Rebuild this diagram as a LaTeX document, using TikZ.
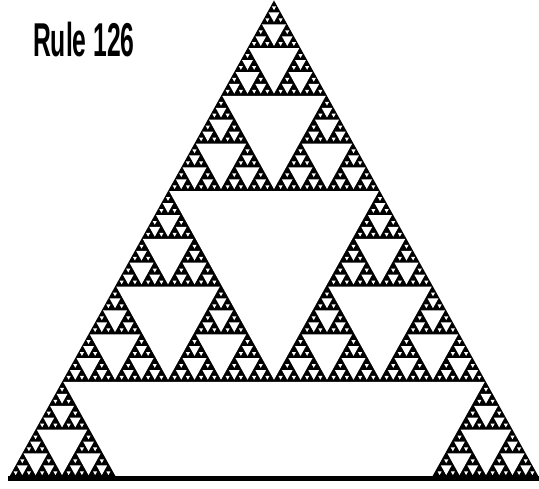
\documentclass[tikz,border=0pt]{standalone}
\usepackage{fontspec}
\setsansfont{Liberation Sans}

\begin{document}
\begin{tikzpicture}[
    x=1pt, y=-1pt,
    % cells of the automaton (black body, white holes)
    cellblack/.style={fill=black},
    hole/.style={fill=white},
    groundline/.style={draw=black, line width=5pt},
    % title: tall, condensed bold sans
    ruletitle/.style={font=\sffamily\bfseries\fontsize{47.5}{50}\selectfont,
                      xscale=0.52, inner sep=0pt, anchor=base west},
    % parity of binomial(p,q): 1 when the bits of q sit inside the bits of p
    declare function={
      bitof(\n,\i)=mod(floor(\n/2^\i),2);
      keep(\p,\q,\i)=1-(1-bitof(\p,\i))*bitof(\q,\i);
      oddbinom(\p,\q)=keep(\p,\q,0)*keep(\p,\q,1)*keep(\p,\q,2)*keep(\p,\q,3)*keep(\p,\q,4)*keep(\p,\q,5);
    }
  ]

  \path[fill=white, use as bounding box] (0,0) rectangle (539,489);

  % ===================== title =====================
  \node[ruletitle] (rulename) at (33,57) {Rule 126};

  % ===================== rule 126, 160 rows from one cell =====================
  \begin{scope}[shift={(274,0.5)}, xscale=1.656, yscale=2.98]
    \clip (-170,-1) rectangle (170,160);
    \fill[cellblack] (0,0) -- (-160,160) -- (160,160) -- cycle;

    % white holes: level k opens at row 2^k inside every odd block
    \foreach \k in {1,...,7}{
      \pgfmathtruncatemacro{\half}{2^\k}
      \pgfmathtruncatemacro{\rowmax}{(160-\half)/(2*\half)}
      \foreach \row in {0,...,\rowmax}{
        \foreach \col in {0,...,\row}{
          \pgfmathtruncatemacro{\isodd}{oddbinom(\row,\col)}
          \ifnum\isodd=1
            \pgfmathsetmacro{\cx}{(2*\col-\row)*2*\half}
            \pgfmathsetmacro{\holetop}{(2*\row+1)*\half}
            \fill[hole] (\cx-\half+0.75,\holetop) -- (\cx+\half-0.75,\holetop)
                        -- (\cx,\holetop+\half-0.75) -- cycle;
          \fi
        }
      }
    }
  \end{scope}

  % ===================== ground line =====================
  \coordinate (groundL) at (8,479);
  \coordinate (groundR) at (539,479);
  \draw[groundline] (groundL) -- (groundR);

\end{tikzpicture}
\end{document}
